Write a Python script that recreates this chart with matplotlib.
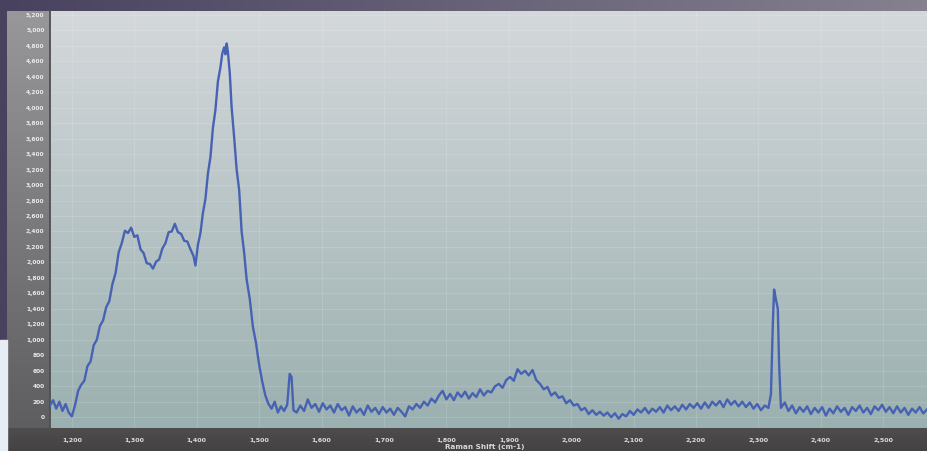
import numpy as np
import matplotlib
matplotlib.use('Agg')
import matplotlib.pyplot as plt
from matplotlib.colors import LinearSegmentedColormap
from matplotlib.patches import Rectangle

W, H = 927, 451

# Raman spectrum (cm-1, counts)
shift = [1165, 1170, 1175, 1180, 1185, 1190, 1195, 1200, 1205, 1210,
         1215, 1220, 1225, 1230, 1235, 1240, 1245, 1250, 1255, 1260,
         1265, 1270, 1275, 1280, 1285, 1290, 1295, 1300, 1305, 1310,
         1315, 1320, 1325, 1330, 1335, 1340, 1345, 1350, 1355, 1360,
         1365, 1370, 1375, 1380, 1385, 1390, 1395, 1398, 1402, 1406,
         1410, 1414, 1418, 1422, 1426, 1430, 1434, 1438, 1441, 1444,
         1446, 1448, 1450, 1453, 1456, 1460, 1464, 1468, 1472, 1476,
         1480, 1485, 1490, 1495, 1500, 1505, 1510, 1515, 1520, 1525,
         1530, 1535, 1540, 1545, 1549, 1552, 1555, 1560,
         1566, 1572, 1578, 1584, 1590, 1596, 1602, 1608, 1614, 1620,
         1626, 1632, 1638, 1644, 1650, 1656, 1662, 1668, 1674, 1680,
         1686, 1692, 1698, 1704, 1710, 1716, 1722, 1728, 1734, 1740,
         1746, 1752, 1758,
         1764, 1770, 1776, 1782, 1788, 1794, 1800, 1806, 1812, 1818,
         1824, 1830, 1836, 1842, 1848, 1854, 1860, 1866, 1872, 1878,
         1884, 1890, 1896, 1902, 1908, 1914, 1920, 1926, 1932, 1938,
         1944, 1950, 1956, 1962, 1968, 1974, 1980, 1986, 1992, 1998,
         2004, 2010, 2016, 2022, 2028, 2034, 2040, 2046,
         2052, 2058, 2064, 2070, 2076, 2082, 2088, 2094, 2100, 2106,
         2112, 2118, 2124, 2130, 2136, 2142, 2148, 2154, 2160, 2166,
         2172, 2178, 2184, 2190, 2196, 2202, 2208, 2214, 2220, 2226,
         2232, 2238, 2244, 2250, 2256, 2262, 2268, 2274, 2280, 2286,
         2292, 2298, 2304, 2310, 2316, 2320, 2323, 2325, 2328, 2331,
         2333, 2336,
         2342, 2348, 2354, 2360, 2366, 2372, 2378, 2384, 2390, 2396,
         2402, 2408, 2414, 2420, 2426, 2432, 2438, 2444, 2450, 2456,
         2462, 2468, 2474, 2480, 2486, 2492, 2498, 2504, 2510, 2516,
         2522, 2528, 2534, 2540, 2546, 2552, 2558, 2564, 2570]
counts = [150, 220, 110, 200, 80, 170, 60, 10, 150, 340,
          420, 470, 660, 720, 930, 1000, 1180, 1250, 1420, 1500,
          1720, 1860, 2130, 2250, 2410, 2380, 2450, 2330, 2350, 2170,
          2120, 1990, 1980, 1920, 2010, 2040, 2180, 2250, 2390, 2400,
          2500, 2390, 2370, 2280, 2270, 2170, 2080, 1960, 2230, 2380,
          2640, 2820, 3150, 3360, 3740, 3970, 4340, 4520, 4700, 4780,
          4690, 4830, 4720, 4450, 4000, 3620, 3200, 2940, 2400, 2130,
          1780, 1530, 1170, 960, 680, 460, 280, 170, 110, 200,
          60, 140, 80, 160, 560, 520, 90, 60,
          150, 80, 230, 120, 170, 70, 180, 100, 150, 60,
          170, 90, 130, 20, 140, 60, 110, 30, 150, 70,
          120, 40, 130, 60, 110, 30, 120, 70, 10, 140,
          100, 170, 120,
          200, 150, 240, 190, 280, 340, 230, 300, 220, 320,
          260, 330, 240, 310, 260, 360, 280, 340, 320, 400,
          430, 380, 480, 520, 470, 620, 560, 600, 540, 610,
          480, 430, 360, 390, 280, 320, 250, 270, 180, 220,
          150, 170, 90, 120, 40, 90, 30, 70,
          20, 60, 0, 50, -20, 40, 10, 80, 30, 100,
          60, 120, 50, 110, 70, 130, 60, 150, 90, 140,
          80, 160, 100, 170, 120, 180, 110, 190, 120, 200,
          150, 210, 130, 230, 160, 210, 140, 200, 130, 190,
          110, 170, 90, 150, 120, 300, 1200, 1650, 1520, 1400,
          700, 120,
          190, 80, 150, 50, 130, 70, 140, 40, 120, 60,
          130, 20, 110, 50, 140, 70, 120, 30, 130, 80,
          150, 60, 120, 40, 140, 90, 160, 70, 130, 50,
          140, 60, 120, 30, 110, 60, 130, 50, 100]

y_ticks = list(range(0, 5201, 200))
x_ticks = list(range(1200, 2501, 100))


def px_axes(fig, x0, y0, x1, y1):
    # axes placed by pixel box of the screenshot
    return fig.add_axes([x0 / W, 1 - y1 / H, (x1 - x0) / W, (y1 - y0) / H])


def gradient_box(fig, box, c_a, c_b, vertical=True):
    ax = px_axes(fig, *box)
    cmap = LinearSegmentedColormap.from_list('g', [c_a, c_b])
    grad = np.linspace(0, 1, 256)
    grad = grad.reshape(-1, 1) if vertical else grad.reshape(1, -1)
    ax.imshow(grad, cmap=cmap, aspect='auto', origin='upper')
    ax.set_axis_off()
    return ax


fig = plt.figure(figsize=(W / 100, H / 100), dpi=100)

# window background
gradient_box(fig, (0, 0, W, H), '#48425f', '#85818f', vertical=False)
fig.add_artist(Rectangle((0, 0), 7 / W, 111 / H, transform=fig.transFigure,
                         color='#e6edf5', zorder=1))

# y label strip and x label strip
gradient_box(fig, (7, 11, 51, 428), '#98989b', '#5e5d60')
gradient_box(fig, (7, 428, W, H), '#4f4c4d', '#444243')

# plot area gradient
gradient_box(fig, (50, 11, W, 428), '#d4d8db', '#9bb0b0')

ax = px_axes(fig, 50, 11, W, 428)
ax.set_facecolor('none')
ax.plot(shift, counts, color='#4762b3', lw=1.7, zorder=3)

ax.set_xlim(1165, 2570)
ax.set_ylim(-140, 5250)

ax.set_yticks(y_ticks)
ax.set_yticklabels([f'{v:,}' for v in y_ticks])
ax.set_xticks(x_ticks)
ax.set_xticklabels([f'{v:,}' for v in x_ticks])
ax.tick_params(axis='y', length=0, pad=4, labelsize=4.2, labelcolor='#ececec')
ax.tick_params(axis='x', length=0, pad=7, labelsize=4.6, labelcolor='#dcdcdc')
for lab in ax.get_xticklabels() + ax.get_yticklabels():
    lab.set_fontweight('bold')

ax.grid(True, color='white', alpha=0.15, lw=0.6)
for side in ['top', 'right', 'bottom']:
    ax.spines[side].set_visible(False)
ax.spines['left'].set_color('#4f4f52')
ax.spines['left'].set_linewidth(1.3)

fig.text(485 / W, 1 - 444 / H, 'Raman Shift (cm-1)', fontsize=5.2,
         color='#d8d8d8', ha='center', va='top', fontweight='bold')

fig.savefig('out.png', dpi=100)
